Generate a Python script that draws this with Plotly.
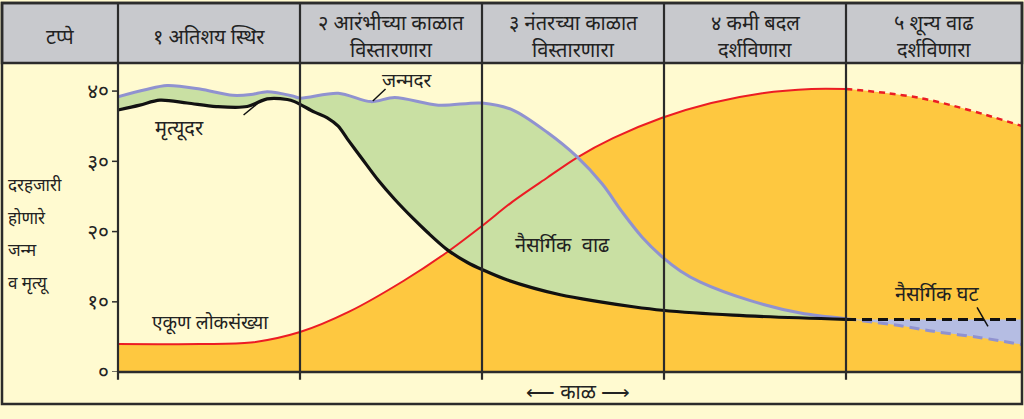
import plotly.graph_objects as go

# ---------------- data (x in stage units: 0..5, y per thousand) ----------------
stage_edges = [0, 1, 2, 3, 4]
stage_titles = [["१ अतिशय स्थिर"], ["२ आरंभीच्या काळात", "विस्तारणारा"], ["३ नंतरच्या काळात", "विस्तारणारा"],
                ["४ कमी बदल", "दर्शविणारा"], ["५ शून्य वाढ", "दर्शविणारा"]]
header_first = "टप्पे"

birth_x = [0.00, 0.15, 0.27, 0.45, 0.63, 0.73, 0.82, 0.96, 1.00, 1.21, 1.39, 1.52, 1.76, 2.00,
           2.17, 2.36, 2.52, 2.66, 2.77, 2.88, 2.99, 3.09, 3.20, 3.47, 3.75, 4.00]
birth_y = [39.2, 40.2, 40.8, 40.3, 39.4, 39.5, 39.9, 39.3, 39.0, 39.7, 38.5, 39.1, 38.0, 38.3,
           37.3, 34.1, 30.7, 26.8, 22.8, 19.2, 16.4, 14.4, 12.8, 10.2, 8.4, 7.6]
birth_future_x = [4.00, 4.30, 4.48, 4.74, 4.97]
birth_future_y = [7.6, 6.6, 5.8, 4.9, 3.9]

death_x = [0.00, 0.12, 0.23, 0.38, 0.54, 0.71, 0.82, 0.93, 0.97, 1.08, 1.15, 1.21, 1.26, 1.34, 1.43,
           1.52, 1.62, 1.70, 1.81, 1.92, 2.00, 2.14, 2.43, 2.65, 2.83, 2.99, 3.38, 4.00]
death_y = [37.3, 38.0, 38.7, 38.3, 37.8, 37.8, 38.9, 38.8, 38.5, 37.0, 36.2, 35.0, 33.2, 30.4, 27.3,
           24.6, 21.9, 19.9, 17.4, 15.6, 14.6, 13.1, 11.0, 10.0, 9.3, 8.8, 8.1, 7.5]
death_future_x = [4.00, 4.97]
death_future_y = [7.5, 7.5]

pop_x = [0.00, 0.45, 0.73, 1.00, 1.27, 1.57, 1.81, 2.00, 2.17, 2.36, 2.52, 2.72, 2.99, 3.26, 3.54, 3.81, 4.00]
pop_y = [4.0, 4.0, 4.2, 5.7, 8.6, 13.0, 17.1, 20.8, 24.3, 27.7, 30.5, 33.3, 36.2, 38.3, 39.7, 40.3, 40.3]
pop_future_x = [4.00, 4.23, 4.41, 4.59, 4.77, 4.97]
pop_future_y = [40.3, 39.7, 39.0, 37.9, 36.6, 35.0]

y_ticks = [0, 10, 20, 30, 40]
y_ticktext = ["०", "१०", "२०", "३०", "४०"]

# ---------------- styling ----------------
W, H = 1024, 419
FONT = "Noto Sans, Lato, sans-serif"
BG = "#fffad0"
ORANGE = "#fec840"
GREEN = "#c9e0a3"
LAV = "#b5bde3"
BLUE = "#9092d0"
RED = "#ec1c24"
DARK = "#2b2b2b"
GREY = "#c8c9cd"
TXT = "#222222"

X0, X1 = 118, 1022          # plot area in pixels
Y_TOP, Y_BOT = 65, 384
XMAX = 4.967
YMAX = 44
SM = 0.9

def px(x):  # paper x from pixel
    return x / W

def py(y):  # paper y from pixel
    return 1 - y / H

def data_to_paper_x(xv):
    return px(X0 + (X1 - X0) * xv / XMAX)

fig = go.Figure()

# orange population area
fig.add_trace(go.Scatter(x=pop_x + pop_future_x[1:], y=pop_y + pop_future_y[1:], mode="lines",
                         line=dict(width=0, shape="spline", smoothing=SM), fill="tozeroy", fillcolor=ORANGE,
                         hoverinfo="skip", showlegend=False))
# green natural increase
fig.add_trace(go.Scatter(x=death_x, y=death_y, mode="lines", line=dict(width=0, shape="spline", smoothing=SM),
                         hoverinfo="skip", showlegend=False))
fig.add_trace(go.Scatter(x=birth_x, y=birth_y, mode="lines", line=dict(width=0, shape="spline", smoothing=SM),
                         fill="tonexty", fillcolor=GREEN, hoverinfo="skip", showlegend=False))
# lavender natural decrease
fig.add_trace(go.Scatter(x=death_future_x, y=death_future_y, mode="lines", line=dict(width=0),
                         hoverinfo="skip", showlegend=False))
fig.add_trace(go.Scatter(x=birth_future_x, y=birth_future_y, mode="lines",
                         line=dict(width=0, shape="spline", smoothing=SM),
                         fill="tonexty", fillcolor=LAV, hoverinfo="skip", showlegend=False))

# lines
fig.add_trace(go.Scatter(x=pop_x, y=pop_y, mode="lines",
                         line=dict(color=RED, width=2, shape="spline", smoothing=SM), showlegend=False))
fig.add_trace(go.Scatter(x=pop_future_x, y=pop_future_y, mode="lines",
                         line=dict(color=RED, width=2.5, shape="spline", smoothing=SM, dash="6px,5px"),
                         showlegend=False))
fig.add_trace(go.Scatter(x=birth_x, y=birth_y, mode="lines",
                         line=dict(color=BLUE, width=3, shape="spline", smoothing=SM), showlegend=False))
fig.add_trace(go.Scatter(x=birth_future_x, y=birth_future_y, mode="lines",
                         line=dict(color=BLUE, width=3, shape="spline", smoothing=SM, dash="10px,6px"),
                         showlegend=False))
fig.add_trace(go.Scatter(x=death_x, y=death_y, mode="lines",
                         line=dict(color="#111111", width=3.2, shape="spline", smoothing=SM), showlegend=False))
fig.add_trace(go.Scatter(x=death_future_x, y=death_future_y, mode="lines",
                         line=dict(color="#111111", width=3, dash="10px,6px"), showlegend=False))

shapes = []
# header band
shapes.append(dict(type="rect", xref="paper", yref="paper", x0=px(2), x1=px(X1), y0=py(Y_TOP), y1=py(3),
                   fillcolor=GREY, line=dict(color=DARK, width=2.5), layer="above"))
# outer border
shapes.append(dict(type="rect", xref="paper", yref="paper", x0=px(2), x1=px(X1), y0=py(417), y1=py(3),
                   fillcolor="rgba(0,0,0,0)", line=dict(color=DARK, width=2.5), layer="above"))
# x axis line
shapes.append(dict(type="line", xref="paper", yref="paper", x0=px(X0), x1=px(X1), y0=py(Y_BOT), y1=py(Y_BOT),
                   line=dict(color=DARK, width=2.5), layer="above"))
# stage separators (header top down to a short tick under the axis)
for e in stage_edges:
    xp = data_to_paper_x(e)
    shapes.append(dict(type="line", xref="paper", yref="paper", x0=xp, x1=xp, y0=py(392), y1=py(3),
                       line=dict(color=DARK, width=2.2), layer="above"))
# y ticks
for t in y_ticks:
    shapes.append(dict(type="line", xref="paper", yref="y", x0=px(112), x1=px(X0), y0=t, y1=t,
                       line=dict(color=DARK, width=1.5), layer="above"))
# leader lines for labels
leaders = [((0.69, 36.6), (0.77, 38.3)), ((1.40, 38.6), (1.47, 40.3)), ((4.72, 9.2), (4.78, 6.5))]
for (a, b) in leaders:
    shapes.append(dict(type="line", xref="x", yref="y", x0=a[0], y0=a[1], x1=b[0], y1=b[1],
                       line=dict(color="#111111", width=1.5), layer="above"))

ann = []
hdr_font = dict(family=FONT, size=20, color=TXT)
ann.append(dict(x=px(60), y=py(38), xref="paper", yref="paper", text=header_first, showarrow=False,
                font=hdr_font, xanchor="center", yanchor="middle"))
for i, lines in enumerate(stage_titles):
    xc = (data_to_paper_x(i) + data_to_paper_x(min(i + 1, XMAX))) / 2
    ys = [38] if len(lines) == 1 else [23, 51]
    for t, yy in zip(lines, ys):
        ann.append(dict(x=xc, y=py(yy), xref="paper", yref="paper", text=t, showarrow=False,
                        font=hdr_font, xanchor="center", yanchor="middle"))

ylab_font = dict(family=FONT, size=17, color=TXT)
for txt, yy in [("दरहजारी", 190), ("होणारे", 224), ("जन्म", 257), ("व मृत्यू", 292)]:
    ann.append(dict(x=px(6), y=py(yy), xref="paper", yref="paper", text=txt, showarrow=False,
                    font=ylab_font, xanchor="left", yanchor="middle"))

for txt, xx, yy, fs in [("मृत्यूदर", 0.34, 34.8, 20), ("जन्मदर", 1.59, 41.6, 19), ("नैसर्गिक  वाढ", 2.44, 18.1, 20),
                        ("एकूण लोकसंख्या", 0.51, 7.2, 19), ("नैसर्गिक घट", 4.50, 11.2, 20)]:
    ann.append(dict(x=xx, y=yy, xref="x", yref="y", text=txt, showarrow=False,
                    font=dict(family=FONT, size=fs, color=TXT), xanchor="center", yanchor="middle"))

ann.append(dict(x=px(578), y=py(404), xref="paper", yref="paper", text="⟵ काळ ⟶", showarrow=False,
                font=dict(family=FONT, size=20, color=TXT), xanchor="center", yanchor="middle"))

fig.update_layout(
    width=W, height=H, autosize=False,
    margin=dict(l=0, r=0, t=0, b=0),
    paper_bgcolor=BG, plot_bgcolor=BG,
    shapes=shapes, annotations=ann,
    xaxis=dict(domain=[px(X0), px(X1)], range=[0, XMAX], showgrid=False, zeroline=False,
               showticklabels=False, ticks="", showline=False, fixedrange=True),
    yaxis=dict(domain=[py(Y_BOT), py(Y_TOP)], range=[0, YMAX], showgrid=False, zeroline=False,
               tickvals=y_ticks, ticktext=y_ticktext, ticks="", showline=False,
               tickfont=dict(family=FONT, size=21, color=TXT), ticklabelstandoff=8, fixedrange=True),
    showlegend=False,
)

page_js = ("document.documentElement.style.margin='0';document.body.style.margin='0';"
           "document.documentElement.style.overflow='hidden';document.body.style.overflow='hidden';")
fig.write_html("out.html", config={"responsive": False, "displayModeBar": False}, post_script=page_js)
